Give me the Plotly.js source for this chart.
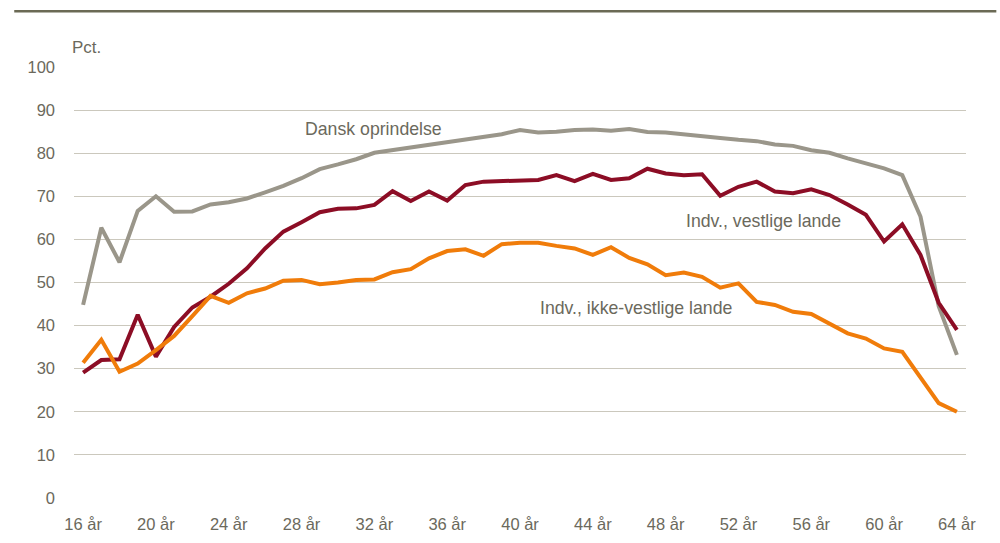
<!DOCTYPE html>
<html>
<head>
<meta charset="utf-8">
<script src="https://cdn.plot.ly/plotly-3.0.1.min.js"></script>
<style>
  html, body { margin: 0; padding: 0; background: #ffffff; }
  #chart { width: 1000px; height: 543px; }
</style>
</head>
<body>
<div id="chart"></div>
<script>
// Ages 16..64
const ages = [16,17,18,19,20,21,22,23,24,25,26,27,28,29,30,31,32,33,34,35,36,37,38,39,40,
              41,42,43,44,45,46,47,48,49,50,51,52,53,54,55,56,57,58,59,60,61,62,63,64];

const danskOprindelse = [44.8,62.7,54.7,66.6,70.0,66.4,66.5,68.1,68.6,69.5,70.9,72.4,74.2,76.3,77.4,78.6,80.1,80.7,81.5,82.1,82.6,83.3,83.8,84.4,85.4,
                         84.8,85.0,85.4,85.5,85.2,85.6,84.9,84.8,84.3,84.0,83.5,83.1,82.8,82.0,81.7,80.7,80.1,78.8,77.7,76.5,74.9,65.3,44.5,33.2];

const vestligeLande = [29.1,32.0,32.2,42.5,32.8,39.7,44.2,46.7,49.7,53.3,57.9,61.8,64.0,66.3,67.1,67.2,68.0,71.2,68.9,71.1,69.0,72.6,73.4,73.6,73.8,
                       73.8,74.9,73.5,75.2,73.8,74.2,76.4,75.3,74.9,75.1,70.1,72.2,73.4,71.1,70.7,71.6,70.3,68.1,65.7,59.5,63.5,56.4,45.3,39.0];

const ikkeVestligeLande = [31.4,36.7,29.3,31.2,34.3,37.6,42.2,46.9,45.3,47.5,48.6,50.4,50.6,49.6,50.0,50.6,50.7,52.4,53.1,55.6,57.3,57.7,56.2,58.9,59.2,
                           59.2,58.5,57.9,56.4,58.2,55.7,54.2,51.7,52.3,51.3,48.8,49.8,45.5,44.8,43.2,42.7,40.5,38.2,37.0,34.7,33.9,27.8,22.0,20.0];

const xTickVals = [16,20,24,28,32,36,40,44,48,52,56,60,64];
const xTickText = xTickVals.map(v => v + ' år');
const yTickVals = [0,10,20,30,40,50,60,70,80,90,100];

const seriesNames = ['Dansk oprindelse', 'Indv., vestlige lande', 'Indv., ikke-vestlige lande'];

const textColor = '#6b695c';
const font = 'Liberation Sans, Arial, sans-serif';

const traces = [
  { x: ages, y: danskOprindelse, name: seriesNames[0], mode: 'lines',
    line: { color: '#9a968a', width: 4 } },
  { x: ages, y: vestligeLande, name: seriesNames[1], mode: 'lines',
    line: { color: '#8c0d25', width: 4 } },
  { x: ages, y: ikkeVestligeLande, name: seriesNames[2], mode: 'lines',
    line: { color: '#f07c0a', width: 4 } }
];

const layout = {
  width: 1000, height: 543,
  margin: { l: 74, r: 34, t: 67, b: 45 },
  paper_bgcolor: '#ffffff', plot_bgcolor: '#ffffff',
  showlegend: false,
  font: { family: font, size: 16, color: textColor },
  xaxis: {
    range: [15.5, 64.5],
    tickvals: xTickVals, ticktext: xTickText,
    showgrid: false, zeroline: false, showline: false, ticks: '',
    ticklabelstandoff: 14,
    tickfont: { family: font, size: 16.5, color: textColor },
    fixedrange: true
  },
  yaxis: {
    range: [0, 100],
    tickvals: yTickVals,
    showgrid: true, gridcolor: '#cbc8bd', gridwidth: 1,
    zeroline: false, showline: false, ticks: '',
    ticklabelstandoff: 18,
    tickfont: { family: font, size: 16.5, color: textColor },
    fixedrange: true
  },
  shapes: [
    { type: 'line', xref: 'paper', yref: 'paper',
      x0: -0.067, x1: 1.034, y0: 1.1295, y1: 1.1295,
      line: { color: '#6b6a55', width: 2.5 } }
  ],
  annotations: [
    { text: 'Pct.', xref: 'paper', yref: 'paper', x: -0.004, y: 1.018, xanchor: 'left', yanchor: 'bottom',
      showarrow: false, font: { family: font, size: 17, color: textColor } },
    { text: seriesNames[0], xref: 'x', yref: 'y', x: 28.1, y: 85.6, xanchor: 'left', yanchor: 'middle',
      showarrow: false, font: { family: font, size: 17.7, color: textColor } },
    { text: seriesNames[1], xref: 'x', yref: 'y', x: 49.0, y: 64.3, xanchor: 'left', yanchor: 'middle',
      showarrow: false, font: { family: font, size: 17.7, color: textColor } },
    { text: seriesNames[2], xref: 'x', yref: 'y', x: 41.0, y: 44.1, xanchor: 'left', yanchor: 'middle',
      showarrow: false, font: { family: font, size: 17.7, color: textColor } }
  ]
};

Plotly.newPlot('chart', traces, layout, { displayModeBar: false, staticPlot: true });
</script>
</body>
</html>
